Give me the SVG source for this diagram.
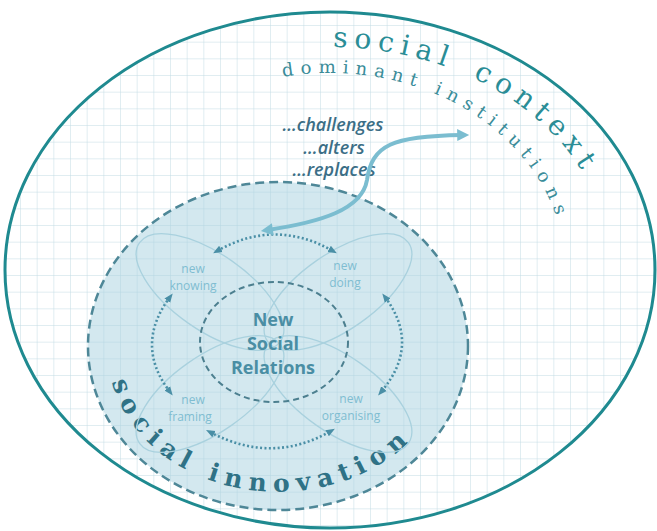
<svg xmlns="http://www.w3.org/2000/svg" width="657" height="531" viewBox="0 0 657 531">
<defs>
  <pattern id="grid" patternUnits="userSpaceOnUse" x="3.33" y="8.33" width="16.667" height="16.667">
    <path d="M0 0H16.667M0 0V16.667" stroke="#c2dbe4" stroke-width="1" fill="none"/>
  </pattern>
  <marker id="dh" viewBox="0 0 10 10" refX="5" refY="5" markerWidth="9" markerHeight="9" markerUnits="userSpaceOnUse" orient="auto-start-reverse">
    <path d="M0 1L10 5L0 9Z" fill="#4a8fa6"/>
  </marker>
  <marker id="bh" viewBox="0 0 10 10" refX="4" refY="5" markerWidth="16" markerHeight="12" markerUnits="userSpaceOnUse" orient="auto-start-reverse">
    <path d="M0 0L10 5L0 10Z" fill="#7bbdd0"/>
  </marker>
  <path id="ctxPath" d="M333 47 A281 223 0 0 1 611 270"/>
  <path id="domPath" d="M283 77 A235 197 0 0 1 565 270"/>
  <path id="innPath" d="M112 382 A170 139 0 0 0 448 346"/>
  <style>
    .petal{fill:none;stroke:#a9d1de;stroke-width:1.3}
    .dot{fill:none;stroke:#4a8fa6;stroke-width:2.6;stroke-dasharray:2 2.4;marker-start:url(#dh);marker-end:url(#dh)}
    .lbl{font-family:"Open Sans","Liberation Sans",sans-serif;font-size:12px;fill:#7fbdd1;text-anchor:middle}
    .ctr{font-family:"Open Sans","Liberation Sans",sans-serif;font-size:18px;font-weight:700;fill:#4a8ea4;text-anchor:middle}
    .verb{font-family:"Open Sans","Liberation Sans",sans-serif;font-size:18px;font-style:italic;font-weight:600;fill:#3b6e86;text-anchor:middle}
    .arc1{font-family:"DejaVu Serif","Liberation Serif",serif;font-size:28px;fill:#2a8d96;letter-spacing:6.5px;word-spacing:8px}
    .arc2{font-family:"DejaVu Serif","Liberation Serif",serif;font-size:18px;fill:#3a8c99;letter-spacing:6.8px}
    .arc3{font-family:"DejaVu Serif","Liberation Serif",serif;font-size:25px;font-weight:700;fill:#2f7286;letter-spacing:7.3px}
  </style>
</defs>

<g id="social-context">
  <ellipse cx="330" cy="270" rx="325" ry="258" fill="#ffffff"/>
  <ellipse cx="330" cy="270" rx="325" ry="258" fill="url(#grid)" stroke="#1f8a90" stroke-width="3"/>
  <text class="arc1"><textPath href="#ctxPath">social context</textPath></text>
  <text class="arc2"><textPath href="#domPath">dominant institutions</textPath></text>
</g>

<g id="social-innovation">
  <ellipse cx="278" cy="346" rx="190" ry="164" fill="#a8d2e0" fill-opacity="0.5" stroke="#4e8797" stroke-width="2.5" stroke-dasharray="9 5"/>
  <text class="arc3"><textPath href="#innPath">social innovation</textPath></text>
</g>

<g id="petals">
  <ellipse class="petal" cx="210" cy="292" rx="86" ry="38" transform="rotate(35 210 292)"/>
  <ellipse class="petal" cx="338" cy="292" rx="86" ry="38" transform="rotate(-35 338 292)"/>
  <ellipse class="petal" cx="210" cy="394" rx="86" ry="38" transform="rotate(-35 210 394)"/>
  <ellipse class="petal" cx="338" cy="394" rx="86" ry="38" transform="rotate(35 338 394)"/>
</g>

<g id="new-social-relations">
  <ellipse cx="274" cy="342" rx="74" ry="60" fill="none" stroke="#4c7f8f" stroke-width="2" stroke-dasharray="6 4"/>
  <text class="ctr" x="273" y="326">New</text>
  <text class="ctr" x="273" y="350">Social</text>
  <text class="ctr" x="273" y="374">Relations</text>
</g>

<g id="new-knowing"><text class="lbl" x="193" y="273">new</text><text class="lbl" x="193" y="290">knowing</text></g>
<g id="new-doing"><text class="lbl" x="345" y="270">new</text><text class="lbl" x="345" y="287">doing</text></g>
<g id="new-framing"><text class="lbl" x="193" y="404">new</text><text class="lbl" x="190" y="421">framing</text></g>
<g id="new-organising"><text class="lbl" x="351" y="403">new</text><text class="lbl" x="351" y="420">organising</text></g>

<g id="verbs">
  <text class="verb" x="333" y="131">…challenges</text>
  <text class="verb" x="334" y="154">…alters</text>
  <text class="verb" x="334" y="176">…replaces</text>
</g>

<g id="connectors">
  <path class="dot" d="M217 251 Q275 218 333 251"/>
  <path class="dot" d="M170 297 Q134 345 170 392"/>
  <path class="dot" d="M385 297 Q421 345 381 392"/>
  <path class="dot" d="M210 432 Q272 465 331 431"/>
  <path d="M268 230 C320 222 362 210 367 180 C372 145 392 136 462 135" fill="none" stroke="#7bbdd0" stroke-width="4" marker-start="url(#bh)" marker-end="url(#bh)"/>
</g>
</svg>
